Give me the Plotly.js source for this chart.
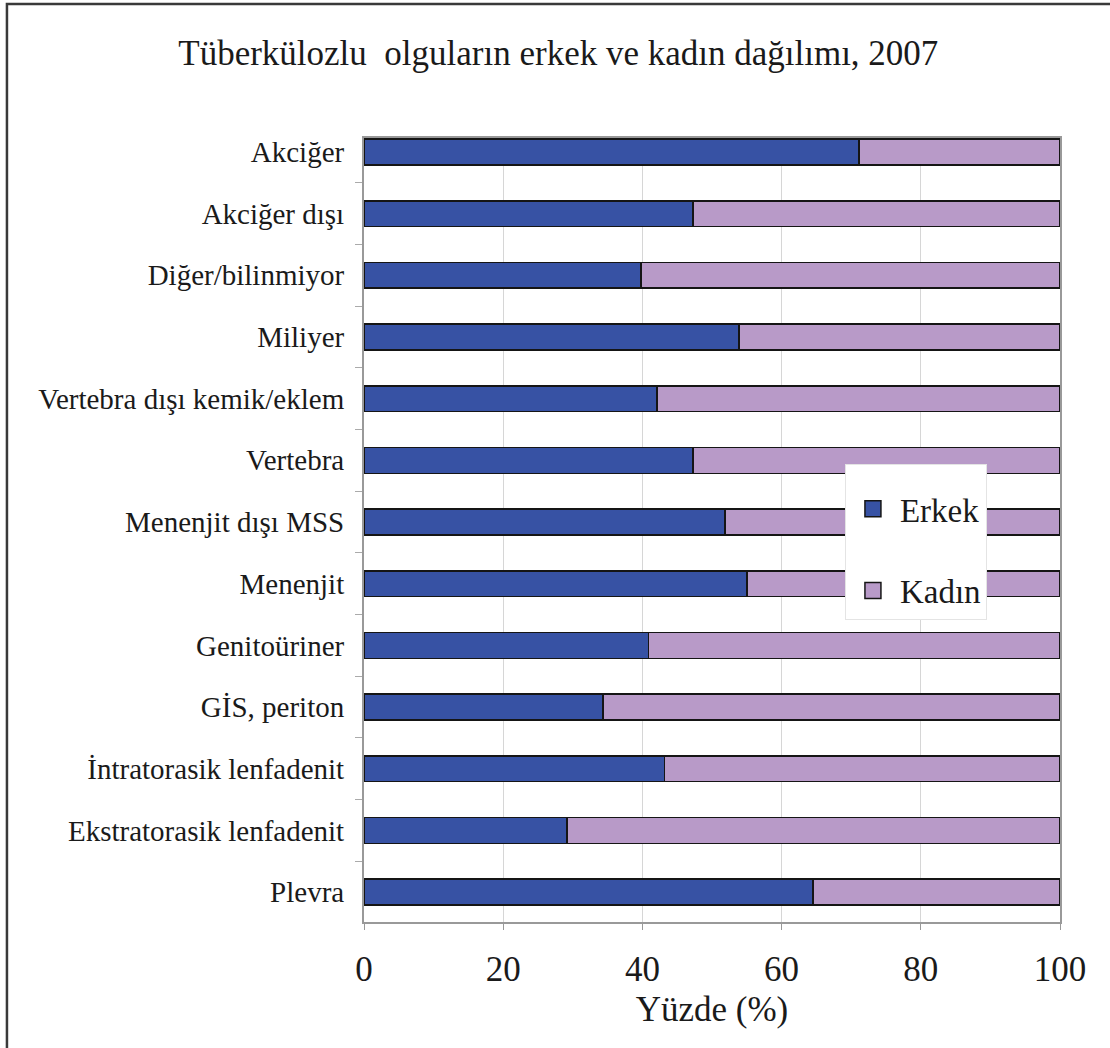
<!DOCTYPE html>
<html>
<head>
<meta charset="utf-8">
<script src="https://cdn.plot.ly/plotly-3.0.1.min.js"></script>
<style>
  html, body { margin: 0; padding: 0; background: #fff; }
  #chart { width: 1110px; height: 1048px; }
</style>
</head>
<body>
<div id="chart"></div>
<script>
// Categories, top to bottom as in the reference
const categories = [
  "Akciğer",
  "Akciğer dışı",
  "Diğer/bilinmiyor",
  "Miliyer",
  "Vertebra dışı kemik/eklem",
  "Vertebra",
  "Menenjit dışı MSS",
  "Menenjit",
  "Genitoüriner",
  "GİS, periton",
  "İntratorasik lenfadenit",
  "Ekstratorasik lenfadenit",
  "Plevra"
];
// Percentage of male cases (Erkek)
const erkek = [71.1, 47.3, 39.8, 53.9, 42.1, 47.3, 51.9, 55.0, 40.9, 34.3, 43.2, 29.2, 64.5];
// Percentage of female cases (Kadın)
const kadin = [28.9, 52.7, 60.2, 46.1, 57.9, 52.7, 48.1, 45.0, 59.1, 65.7, 56.8, 70.8, 35.5];

const xTicks = [0, 20, 40, 60, 80, 100];
const seriesNames = ["Erkek", "Kadın"];
const seriesColors = ["#3752A4", "#B89AC8"];

const font = "Liberation Serif";

const traces = [
  {
    type: "bar", orientation: "h", name: seriesNames[0], legendgroup: "a", showlegend: false,
    y: categories, x: erkek,
    marker: { color: seriesColors[0], line: { color: "#151515", width: 1.6 } },
    hoverinfo: "x+y+name"
  },
  {
    type: "bar", orientation: "h", name: seriesNames[1], legendgroup: "b", showlegend: false,
    y: categories, x: kadin,
    marker: { color: seriesColors[1], line: { color: "#151515", width: 1.6 } },
    hoverinfo: "x+y+name"
  },
  // legend entries (larger square swatches, no marks on the plot)
  {
    type: "scatter", mode: "markers", name: seriesNames[0], legendgroup: "a",
    x: [null], y: [null],
    marker: { symbol: "square", size: 16, color: seriesColors[0], line: { color: "#151515", width: 1.5 } }
  },
  {
    type: "scatter", mode: "markers", name: seriesNames[1], legendgroup: "b",
    x: [null], y: [null],
    marker: { symbol: "square", size: 16, color: seriesColors[1], line: { color: "#151515", width: 1.5 } }
  }
];

const layout = {
  width: 1110, height: 1048,
  margin: { l: 364, r: 50, t: 138, b: 126 },
  paper_bgcolor: "#fff", plot_bgcolor: "#fff",
  font: { family: font, color: "#1a1a1a" },
  barmode: "stack",
  bargap: 0.58,
  title: {
    text: "Tüberkülozlu\u00a0 olguların erkek ve kadın dağılımı, 2007",
    font: { family: font, size: 35, color: "#1a1a1a" },
    x: 0.503, xanchor: "center", y: 0.950, yanchor: "middle"
  },
  xaxis: {
    range: [0, 100],
    tickvals: xTicks,
    ticktext: xTicks.map(String),
    tickfont: { family: font, size: 35, color: "#1a1a1a" },
    ticks: "outside", ticklen: 6, tickcolor: "#999",
    ticklabelstandoff: 9,
    showgrid: true, gridcolor: "#d6d6d6", gridwidth: 1,
    zeroline: false,
    showline: true, linecolor: "#999", linewidth: 2, mirror: true,
    title: { text: "Yüzde (%)", font: { family: font, size: 35, color: "#1a1a1a" }, standoff: 8 }
  },
  yaxis: {
    type: "category",
    categoryorder: "array", categoryarray: categories,
    range: [12.486, -0.227],
    tickson: "boundaries",
    ticks: "outside", ticklen: 7, tickcolor: "#aaa",
    ticklabelstandoff: 12,
    tickfont: { family: font, size: 29, color: "#1a1a1a" },
    showgrid: false, zeroline: false,
    showline: true, linecolor: "#999", linewidth: 2, mirror: true
  },
  legend: {
    x: 0.691, y: 0.584, xanchor: "left", yanchor: "top",
    bgcolor: "#fff", bordercolor: "#e4e4e4", borderwidth: 1,
    font: { family: font, size: 33, color: "#1a1a1a" },
    title: { text: "\u00a0", font: { size: 12 } },
    traceorder: "grouped", tracegroupgap: 36,
    itemwidth: 44,
    entrywidth: 160
  },
  shapes: [
    {
      type: "rect", xref: "paper", yref: "paper",
      x0: -0.513, x1: 1.08, y0: -0.18, y1: 1.171,
      line: { color: "#3a3a3a", width: 2.5 }, fillcolor: "rgba(0,0,0,0)", layer: "below"
    }
  ]
};

Plotly.newPlot("chart", traces, layout, { displayModeBar: false, staticPlot: true });
</script>
</body>
</html>
